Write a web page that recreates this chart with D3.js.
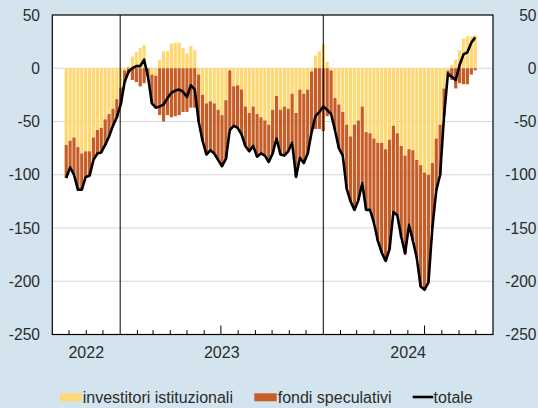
<!DOCTYPE html>
<html>
<head>
<meta charset="utf-8">
<script src="https://cdn.jsdelivr.net/npm/d3@7"></script>
<style>
  body { margin: 0; background: #d4e4ee; }
  svg { display: block; }
  text { font-family: "Liberation Sans", Arial, sans-serif; fill: #2b2b2b; }
</style>
</head>
<body>
<svg id="chart"></svg>
<script>
// weekly observations, Monday 26 Sep 2022 -> Monday 30 Sep 2024
var firstWeek = "2022-09-26"
var lastWeek = "2024-09-30"

var istituzionali = [
  -72, -68, -65, -74, -80, -78, -78, -65, -58, -56, -48, -43, -38, -29, -18,
  -2, 2, 11, 15, 19, 22, 0, -6, -7, 8, 16, 16, 23, 24, 24, 19, 14, 21, 17,
  -6, -25, -33, -31, -33, -39, -44, -30, -2, -17, -16, -20, -36, -42, -36, -43,
  -46, -49, -53, -39, -26, -39, -36, -38, -24, -42, -20, -24, -20, -3, 12, 16, 23,
  6, -2, -28, -34, -41, -53, -64, -53, -49, -36, -60, -61, -66, -70, -70, -76,
  -67, -54, -61, -73, -82, -76, -77, -86, -91, -98, -100, -89, -66, -53, -19,
  -2, 3, 8, 17, 28, 30, 30, 31
]

var fondi = [
  -31, -25, -35, -40, -34, -24, -23, -21, -22, -23, -24, -21, -16, -17, -16,
  -11, -5, -11, -13, -17, -14, -8, -27, -30, -44, -50, -44, -46, -45, -44, -41, -41, -37, -37,
  -44, -43, -48, -46, -47, -47, -48, -55, -56, -37, -40, -42, -37, -36, -37, -40,
  -34, -33, -35, -41, -40, -42, -46, -40, -46, -60, -64, -65, -60, -57, -57, -57, -59,
  -45, -41, -30, -41, -41, -60, -61, -80, -75, -72, -73, -72, -79, -92, -103, -105,
  -103, -81, -77, -85, -92, -71, -85, -92, -114, -110, -101, -61, -49, -47, -26,
  -3, -11, -19, -14, -15, -15, -6, -2
]

var yTicks = [50, 0, -50, -100, -150, -200, -250]
var yearLabels = ["2022", "2023", "2024"]
var legendLabels = ["investitori istituzionali", "fondi speculativi", "totale"]

var colors = { istituzionali: "#fed873", fondi: "#c65d27", totale: "#000000" }

var width = 538, height = 408
var plot = { left: 52.3, right: 493, top: 15, bottom: 334.5 }

var svg = d3.select("#chart")
  .attr("width", width)
  .attr("height", height)

var weeks = d3.utcMonday.range(new Date(firstWeek), d3.utcDay.offset(new Date(lastWeek), 1))

var data = weeks.map(function (d, i) {
  return { date: d, istituzionali: istituzionali[i], fondi: fondi[i],
           totale: istituzionali[i] + fondi[i] }
})

var x = d3.scaleUtc()
  .domain([new Date("2022-09-01"), new Date("2024-11-01")])
  .range([plot.left, plot.right])

var y = d3.scaleLinear()
  .domain([-250, 50])
  .range([plot.bottom, plot.top])

// plot area
svg.append("rect")
  .attr("x", plot.left).attr("y", plot.top)
  .attr("width", plot.right - plot.left)
  .attr("height", plot.bottom - plot.top)
  .attr("fill", "#fff")

svg.append("g")
  .selectAll("line")
  .data(yTicks.filter(function (d) { return d < 50 && d > -250 }))
  .join("line")
  .attr("x1", plot.left).attr("x2", plot.right)
  .attr("y1", function (d) { return y(d) })
  .attr("y2", function (d) { return y(d) })
  .attr("stroke", "#d6d6d6")
  .attr("stroke-width", 1)

// stacked bars
var stack = d3.stack()
  .keys(["istituzionali", "fondi"])
  .offset(d3.stackOffsetDiverging)

var series = stack(data)
var barW = 3.2

svg.append("g")
  .selectAll("g")
  .data(series)
  .join("g")
  .attr("fill", function (s) { return colors[s.key] })
  .selectAll("rect")
  .data(function (s) { return s })
  .join("rect")
  .attr("x", function (d) { return x(d.data.date) - barW / 2 })
  .attr("width", barW)
  .attr("y", function (d) { return y(Math.max(d[0], d[1])) })
  .attr("height", function (d) { return Math.abs(y(d[0]) - y(d[1])) })

// year separators
var yearStarts = [new Date("2023-01-01"), new Date("2024-01-01")]
svg.append("g")
  .selectAll("line")
  .data(yearStarts)
  .join("line")
  .attr("x1", function (d) { return x(d) })
  .attr("x2", function (d) { return x(d) })
  .attr("y1", plot.top).attr("y2", plot.bottom)
  .attr("stroke", "#000")
  .attr("stroke-width", 1)

// total line
var line = d3.line()
  .x(function (d) { return x(d.date) })
  .y(function (d) { return y(d.totale) })

svg.append("path")
  .datum(data)
  .attr("d", line)
  .attr("fill", "none")
  .attr("stroke", colors.totale)
  .attr("stroke-width", 2.6)
  .attr("stroke-linejoin", "round")

// frame
svg.append("rect")
  .attr("x", plot.left).attr("y", plot.top)
  .attr("width", plot.right - plot.left)
  .attr("height", plot.bottom - plot.top)
  .attr("fill", "none")
  .attr("stroke", "#000")
  .attr("stroke-width", 1.2)

// month ticks on the bottom edge
var months = d3.utcMonth.range(new Date("2022-10-01"), new Date("2024-11-01"))
  .filter(function (d) { return d.getUTCMonth() !== 0 })
svg.append("g")
  .selectAll("line")
  .data(months)
  .join("line")
  .attr("x1", function (d) { return x(d) })
  .attr("x2", function (d) { return x(d) })
  .attr("y1", plot.bottom)
  .attr("y2", function (d) { return plot.bottom - (d.getUTCMonth() === 6 ? 9 : 4.5) })
  .attr("stroke", "#000")
  .attr("stroke-width", 1)

// year labels centred on each year's span
var yearSpans = [
  [x.domain()[0], yearStarts[0]],
  [yearStarts[0], yearStarts[1]],
  [yearStarts[1], x.domain()[1]]
]
svg.append("g")
  .selectAll("text")
  .data(yearLabels)
  .join("text")
  .attr("x", function (d, i) { return (x(yearSpans[i][0]) + x(yearSpans[i][1])) / 2 })
  .attr("y", 357.5)
  .attr("text-anchor", "middle")
  .attr("font-size", 16)
  .text(function (d) { return d })

// y labels, both sides
var yl = svg.append("g").attr("font-size", 15.6)
yl.selectAll("text.l")
  .data(yTicks)
  .join("text")
  .attr("class", "l")
  .attr("x", 40)
  .attr("y", function (d) { return y(d) + 5.6 })
  .attr("text-anchor", "end")
  .text(function (d) { return d })
yl.selectAll("text.r")
  .data(yTicks)
  .join("text")
  .attr("class", "r")
  .attr("x", 536.5)
  .attr("y", function (d) { return y(d) + 5.6 })
  .attr("text-anchor", "end")
  .text(function (d) { return d })

// legend
var legend = svg.append("g").attr("font-size", 16)
var lx = [60, 254.3, 412.7]

legend.append("rect")
  .attr("x", lx[0]).attr("y", 393.3).attr("width", 21.7).attr("height", 8)
  .attr("fill", colors.istituzionali)
legend.append("rect")
  .attr("x", lx[1]).attr("y", 393.3).attr("width", 22.4).attr("height", 8)
  .attr("fill", colors.fondi)
legend.append("line")
  .attr("x1", lx[2]).attr("x2", lx[2] + 20.6)
  .attr("y1", 397).attr("y2", 397)
  .attr("stroke", colors.totale).attr("stroke-width", 2.6)

legend.selectAll("text")
  .data(legendLabels)
  .join("text")
  .attr("x", function (d, i) { return [82.7, 277.7, 433.6][i] })
  .attr("y", 402.6)
  .text(function (d) { return d })
</script>
</body>
</html>
